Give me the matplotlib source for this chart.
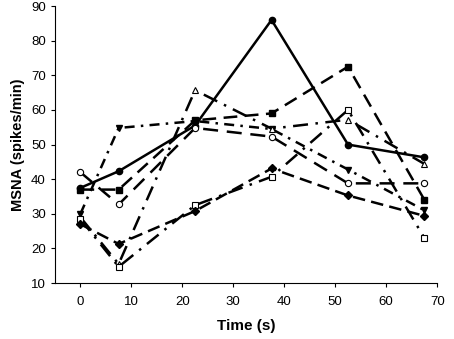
import numpy as np
import matplotlib
matplotlib.use('Agg')
import matplotlib.pyplot as plt

plt.rcParams['font.family'] = ['Liberation Sans', 'DejaVu Sans']

time = [0, 7.5, 22.5, 37.5, 52.5, 67.5]

circ_fill = [37.5, 42.3, 55.5, 86, 50, 46.3]
sq_fill = [37, 37, 57, 59, 72.5, 34]
tri_down = [30, 54.8, 56.8, 54.5, 42.8, 31]
tri_open = [29, 15.5, 65.7, 54.6, 57.2, 44.4]
sq_open = [28.5, 14.7, 32.5, 40.7, 60, 23]
circ_open = [42, 32.7, 54.8, 52.3, 38.8, 38.8]
diam_fill = [27, 21.3, 30.8, 43.1, 35.3, 29.4]

fig = plt.figure(figsize=(4.54, 3.39), dpi=100)
ax = fig.add_axes([0.121, 0.165, 0.842, 0.817])

lw = 1.8
ax.plot(time, circ_fill, '-', color='k', lw=lw, marker='o', ms=4.5, mfc='k', mec='k')
ax.plot(time, sq_fill, color='k', lw=lw, ls=(0, (5.5, 3)), marker='s', ms=4.5, mfc='k', mec='k')
ax.plot(time, tri_down, color='k', lw=lw, ls=(0, (4, 2.5, 1, 2.5)), marker='v', ms=5, mfc='k', mec='k')
ax.plot(time, tri_open, color='k', lw=lw, ls=(0, (6, 3, 1, 3)), marker='^', ms=5, mfc='w', mec='k', mew=0.8)
ax.plot(time, sq_open, color='k', lw=lw, ls=(0, (6, 3, 1, 3)), marker='s', ms=4.5, mfc='w', mec='k', mew=0.8)
ax.plot(time, circ_open, color='k', lw=lw, ls=(0, (6, 3.5)), marker='o', ms=4.5, mfc='w', mec='k', mew=0.8)
ax.plot(time, diam_fill, color='k', lw=lw, ls=(0, (5, 2.5)), marker='D', ms=4, mfc='k', mec='k')

ax.set_xlim(-5, 70)
ax.set_ylim(10, 90)
ax.set_xticks(np.arange(0, 71, 10))
ax.set_yticks(np.arange(10, 91, 10))
ax.spines['top'].set_visible(False)
ax.spines['right'].set_visible(False)
ax.tick_params(labelsize=9.5, direction='out', length=3)
ax.tick_params(axis='x', pad=6)
ax.set_xlabel('Time (s)', fontsize=11, fontweight='bold', labelpad=8)
ax.set_ylabel('MSNA (spikes/min)', fontsize=10.5, fontweight='bold')

fig.savefig('out.png', dpi=100)
